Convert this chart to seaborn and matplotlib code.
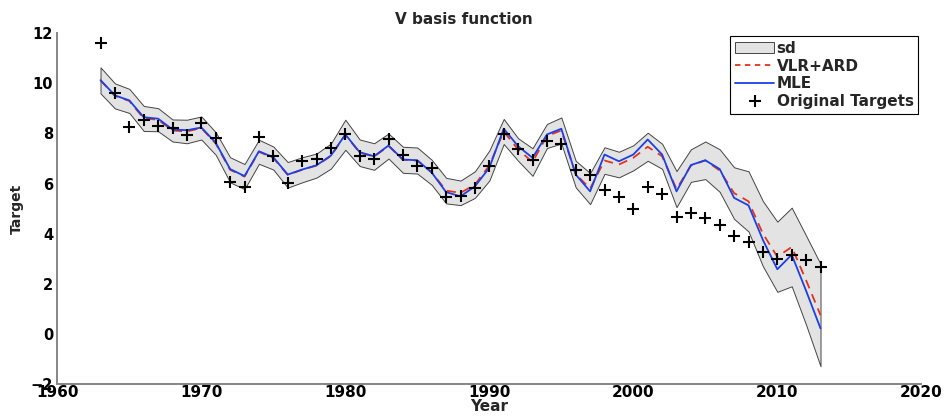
import numpy as np
import pandas as pd
import matplotlib
matplotlib.use("Agg")
import matplotlib.pyplot as plt
import seaborn as sns
from matplotlib.lines import Line2D
from matplotlib.patches import Patch

# -----------------------------
# data
# -----------------------------
years = list(range(1963, 2014))

targets = [11.6, 9.63, 8.25, 8.53, 8.28, 8.2, 7.93, 8.43, 7.83, 6.05,
           5.87, 7.87, 7.12, 6.03, 6.89, 6.99, 7.43, 7.96, 7.09, 6.99,
           7.79, 7.16, 6.69, 6.63, 5.47, 5.52, 5.83, 6.69, 7.99, 7.39,
           6.96, 7.69, 7.6, 6.56, 6.36, 5.73, 5.47, 5.0, 5.87, 5.6,
           4.67, 4.83, 4.63, 4.36, 3.9, 3.65, 3.27, 3.0, 3.16, 2.96, 2.69]

mle = [10.13, 9.52, 9.32, 8.65, 8.59, 8.16, 8.13, 8.24, 7.63, 6.58,
       6.3, 7.29, 7.05, 6.36, 6.56, 6.73, 7.12, 7.96, 7.25, 7.09,
       7.52, 6.96, 6.93, 6.44, 5.66, 5.49, 5.89, 6.63, 8.19, 7.49,
       7.03, 7.96, 8.19, 6.36, 5.69, 7.16, 6.89, 7.16, 7.76, 7.16,
       5.69, 6.74, 6.93, 6.58, 5.43, 5.13, 3.75, 2.58, 3.16, 1.72, 0.22]

vlr_ard = [10.12, 9.5, 9.3, 8.6, 8.55, 8.12, 8.08, 8.22, 7.6, 6.55,
           6.28, 7.27, 7.02, 6.35, 6.55, 6.72, 7.1, 7.95, 7.23, 7.08,
           7.5, 6.95, 6.92, 6.45, 5.72, 5.63, 5.96, 6.72, 8.08, 7.36,
           6.86, 7.9, 8.12, 6.38, 5.8, 6.92, 6.76, 7.03, 7.47, 7.09,
           5.78, 6.72, 6.93, 6.52, 5.62, 5.29, 4.0, 3.08, 3.47, 2.14, 0.75]

sd = [0.52, 0.5, 0.48, 0.5, 0.46, 0.44, 0.47, 0.46, 0.45, 0.5,
      0.5, 0.48, 0.46, 0.51, 0.5, 0.48, 0.5, 0.6, 0.53, 0.53,
      0.5, 0.52, 0.52, 0.5, 0.51, 0.49, 0.53, 0.6, 0.5, 0.45,
      0.55, 0.48, 0.52, 0.53, 0.62, 0.53, 0.51, 0.5, 0.56, 0.5,
      0.72, 0.65, 0.75, 0.85, 1.03, 1.2, 1.3, 1.4, 1.57, 1.78, 2.04]

x_ticks = [1960, 1970, 1980, 1990, 2000, 2010, 2020]
y_ticks = [-2, 0, 2, 4, 6, 8, 10, 12]

df = pd.DataFrame({"Year": years, "Target": targets, "MLE": mle,
                   "VLR": vlr_ard, "sd": sd})
df["lo"] = df["VLR"] - df["sd"]
df["hi"] = df["VLR"] + df["sd"]

# -----------------------------
# style
# -----------------------------
sns.set_style("white")
plt.rcParams["font.family"] = ["DejaVu Sans"]
plt.rcParams["font.weight"] = "bold"

RED = "#e5321c"
BLUE = "#1a40e6"
AXIS_GREY = "#858585"
FS = 11

fig = plt.figure(figsize=(9.46, 4.17), dpi=100)
ax = fig.add_axes([0.0606, 0.0791, 0.9133, 0.8411])

ax.fill_between(df["Year"], df["lo"], df["hi"], facecolor="#e3e3e3",
                edgecolor="#444444", linewidth=0.7, zorder=1)
sns.lineplot(data=df, x="Year", y="VLR", ax=ax, color=RED, linewidth=1.3,
             linestyle=(0, (5, 3.5)), zorder=2)
sns.lineplot(data=df, x="Year", y="MLE", ax=ax, color=BLUE, linewidth=1.3,
             zorder=3)
sns.scatterplot(data=df, x="Year", y="Target", ax=ax, marker="+", s=75,
                color="black", linewidth=1.5, zorder=4)

ax.set_xlim(1960, 2020)
ax.set_ylim(-2, 12)
ax.set_xticks(x_ticks)
ax.set_yticks(y_ticks)
ax.tick_params(direction="in", length=6, width=1, color=AXIS_GREY,
               labelcolor="black")
ax.tick_params(axis="x", pad=1, labelsize=FS)
ax.tick_params(axis="y", pad=3, labelsize=10.5)
for lab in ax.get_xticklabels() + ax.get_yticklabels():
    lab.set_fontweight("bold")

sns.despine(ax=ax)
for side in ["left", "bottom"]:
    ax.spines[side].set_color(AXIS_GREY)
    ax.spines[side].set_linewidth(1.4)

ax.set_xlabel("Year", fontsize=FS, fontweight="bold", labelpad=-1)
ax.set_ylabel("Target", fontsize=10, fontweight="bold", labelpad=5)
ax.set_title("V basis function", fontsize=FS, fontweight="bold", pad=7,
             x=0.47)

handles = [
    Patch(facecolor="#e3e3e3", edgecolor="#444444", linewidth=0.7),
    Line2D([], [], color=RED, linewidth=1.3, linestyle=(0, (3, 2.5))),
    Line2D([], [], color=BLUE, linewidth=1.3),
    Line2D([], [], color="black", marker="+", linestyle="none",
           markersize=8, markeredgewidth=1.5),
]
labels = ["sd", "VLR+ARD", "MLE", "Original Targets"]
leg = ax.legend(handles, labels, loc="upper right", fontsize=FS,
                frameon=True, fancybox=False, edgecolor="black",
                framealpha=1, borderaxespad=0.2, handlelength=2.6,
                handleheight=0.8, handletextpad=0.15, labelspacing=0.18,
                borderpad=0.3, numpoints=1)
leg.get_frame().set_linewidth(0.8)
for t in leg.get_texts():
    t.set_fontweight("bold")

fig.savefig("out.png", dpi=100)
